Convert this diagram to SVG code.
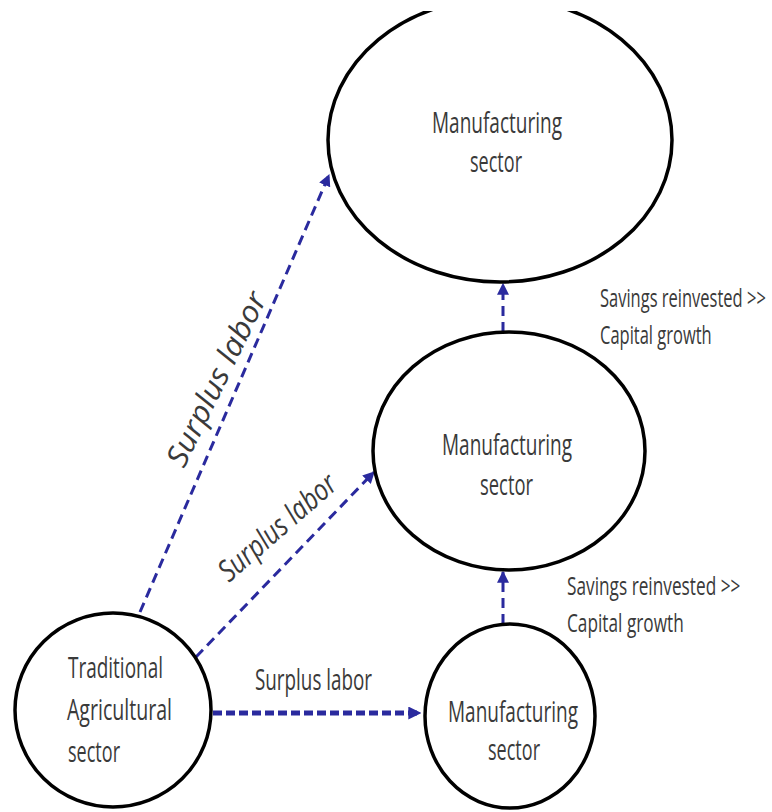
<svg xmlns="http://www.w3.org/2000/svg" width="772" height="812" viewBox="0 0 772 812">
<style>
.node{fill:#fff;stroke:#000;stroke-width:3.5}
.lbl{font-family:"Open Sans","Liberation Sans",sans-serif;font-size:30px;fill:#3a3a3a}
.sm{font-family:"Open Sans","Liberation Sans",sans-serif;font-size:25px;fill:#3a3a3a}
.it{font-style:italic}
.con{stroke:#2a2a9e;stroke-width:3;fill:none;stroke-dasharray:10 6}
.thick{stroke-width:5;stroke-dasharray:9 4}
</style>
<defs>
<marker id="ah" viewBox="0 0 10 10" refX="9" refY="5" markerWidth="4" markerHeight="4" orient="auto" markerUnits="strokeWidth">
<path d="M0,0 L10,5 L0,10 z" fill="#2a2a9e"/>
</marker>
<marker id="ah2" viewBox="0 0 10 10" refX="9" refY="5" markerWidth="2.6" markerHeight="2.6" orient="auto" markerUnits="strokeWidth">
<path d="M0,0 L10,5 L0,10 z" fill="#2a2a9e"/>
</marker>
<clipPath id="topclip"><rect x="0" y="11" width="772" height="801"/></clipPath>
</defs>
<rect width="772" height="812" fill="#fff"/>
<g id="connectors">
<line class="con" x1="140" y1="612" x2="329" y2="175" marker-end="url(#ah)"/>
<line class="con" x1="196" y1="657" x2="374" y2="472" marker-end="url(#ah)"/>
<line class="con thick" x1="213" y1="713" x2="420" y2="713" marker-end="url(#ah2)"/>
<line class="con" x1="503" y1="332" x2="503" y2="284" stroke-dasharray="24 10 8 20" marker-end="url(#ah)"/>
<line class="con" x1="503" y1="624" x2="503" y2="572" stroke-dasharray="28 9 8 20" marker-end="url(#ah)"/>
<text class="lbl it" transform="translate(184,469) rotate(-64)" textLength="190" lengthAdjust="spacingAndGlyphs">Surplus labor</text>
<text class="lbl it" transform="translate(229,583) rotate(-41)" textLength="146" lengthAdjust="spacingAndGlyphs">Surplus labor</text>
<text class="lbl" x="255" y="690" textLength="117" lengthAdjust="spacingAndGlyphs">Surplus labor</text>
<text class="sm" transform="translate(600,307) scale(0.66,1)">Savings reinvested &gt;&gt;</text>
<text class="sm" transform="translate(600,344) scale(0.66,1)">Capital growth</text>
<text class="sm" transform="translate(567,595) scale(0.69,1)">Savings reinvested &gt;&gt;</text>
<text class="sm" transform="translate(567,632) scale(0.69,1)">Capital growth</text>
</g>
<g id="manufacturing-top">
<ellipse class="node" cx="500" cy="140" rx="172" ry="142" clip-path="url(#topclip)"/>
<text class="lbl" x="432" y="133" textLength="130" lengthAdjust="spacingAndGlyphs">Manufacturing</text>
<text class="lbl" x="470" y="172" textLength="52" lengthAdjust="spacingAndGlyphs">sector</text>
</g>
<g id="manufacturing-middle">
<ellipse class="node" cx="509" cy="451" rx="136" ry="119"/>
<text class="lbl" x="442" y="455" textLength="130" lengthAdjust="spacingAndGlyphs">Manufacturing</text>
<text class="lbl" x="480" y="495" textLength="53" lengthAdjust="spacingAndGlyphs">sector</text>
</g>
<g id="manufacturing-bottom">
<ellipse class="node" cx="510" cy="716" rx="85" ry="92"/>
<text class="lbl" x="448" y="722" textLength="130" lengthAdjust="spacingAndGlyphs">Manufacturing</text>
<text class="lbl" x="488" y="760" textLength="52" lengthAdjust="spacingAndGlyphs">sector</text>
</g>
<g id="traditional-agricultural">
<ellipse class="node" cx="113" cy="710" rx="98" ry="97"/>
<text class="lbl" x="68" y="678" textLength="95" lengthAdjust="spacingAndGlyphs">Traditional</text>
<text class="lbl" x="67" y="720" textLength="105" lengthAdjust="spacingAndGlyphs">Agricultural</text>
<text class="lbl" x="68" y="762" textLength="52" lengthAdjust="spacingAndGlyphs">sector</text>
</g>
</svg>
